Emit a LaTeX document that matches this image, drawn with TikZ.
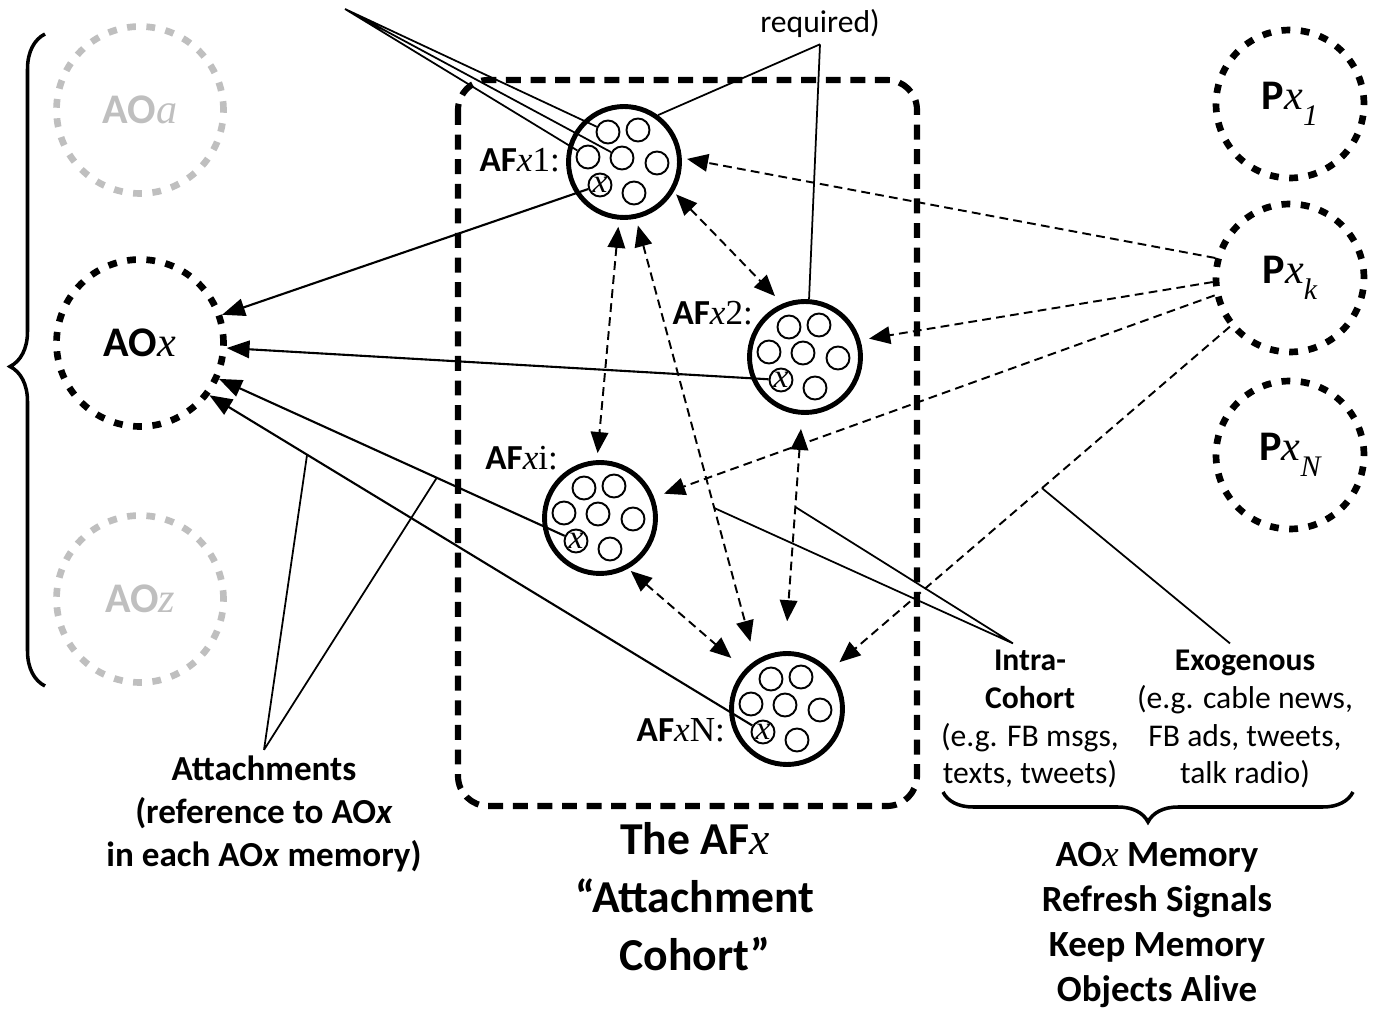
\documentclass[tikz,border=0pt]{standalone}
\usepackage{fontspec}
\setmainfont{Carlito}
\newfontfamily\cambria{Liberation Serif}
\usetikzlibrary{arrows.meta, decorations.pathreplacing}
\definecolor{faded}{RGB}{191,191,191}
\newcommand{\fsz}[2]{\fontsize{#1}{#2}\selectfont}
\newcommand{\vx}{{\cambria\mdseries\itshape x}}
\newcommand{\vsub}[1]{\raisebox{-9pt}{\cambria\mdseries\itshape\fsz{17}{17}#1}}

\tikzset{
  ao/.style={circle, draw, line width=3.8pt, dash pattern=on 5pt off 6pt,
             minimum size=3.34cm, font=\bfseries\fsz{24}{28}},
  px/.style={ao, minimum size=2.96cm},
  af/.style={circle, draw, line width=2.8pt, minimum size=2.22cm},
  mem/.style={circle, draw, line width=1.1pt, minimum size=0.46cm, inner sep=0pt},
  memx/.style={mem, font=\cambria\itshape\fsz{19}{19}},
  afname/.style={anchor=east, inner sep=1pt, font=\bfseries\fsz{20}{24}},
  link/.style={line width=1.2pt, -{Triangle[length=13pt,width=10pt]}},
  sig/.style={line width=1.1pt, dash pattern=on 5pt off 3pt, -{Triangle[length=12pt,width=10pt]}},
  sigboth/.style={sig, {Triangle[length=12pt,width=10pt]}-{Triangle[length=12pt,width=10pt]}},
  note/.style={line width=1pt},
  bracket/.style={line width=2pt, decorate},
}

\begin{document}
\begin{tikzpicture}[x=0.02cm, y=-0.02cm]
  \useasboundingbox (0,0) rectangle (1374,1013);

  % the cohort box
  \draw[line width=3.5pt, dash pattern=on 8.5pt off 5.5pt, rounded corners=0.6cm]
    (458,80) rectangle (917,806);

  % attachment objects
  \node[ao, draw=faded, text=faded] (AOa) at (140,110) {AO{\cambria\mdseries\itshape a}};
  \node[ao] (AOx) at (140,343) {AO\vx};
  \node[ao, draw=faded, text=faded] (AOz) at (140,599) {AO{\cambria\mdseries\itshape z}};

  % sources
  \node[px] (Px1) at (1290,104) {P\vx\vsub{1}};
  \node[px] (Pxk) at (1290,278) {P\vx\vsub{k}};
  \node[px] (PxN) at (1290,455) {P\vx\vsub{N}};

  % cohort members
  \node[af] (af1) at (624,162) {};
  \node[af] (af2) at (805,357) {};
  \node[af] (afi) at (600,518) {};
  \node[af] (afn) at (787,709) {};

  \node[afname] (l1) at (562,160) {AF\vx{\cambria\mdseries 1:}};
  \node[afname] (l2) at (755,313) {AF\vx{\cambria\mdseries 2:}};
  \node[afname] (li) at (560,458) {AF\vx{\cambria\mdseries i:}};
  \node[afname] (ln) at (727,730) {AF\vx{\cambria\mdseries N:}};

  \foreach \c in {af1,af2,afi,afn}{
    \foreach \dx/\dy [count=\k] in {-16/-30,14/-32,-36/-5,-2/-4,33/1,10/31}
      \node[mem] (\c-\k) at ([shift={(\dx,\dy)}]\c) {};
  }
  \node[memx] (xs1) at ([shift={(-24,23)}]af1) {x};
  \node[memx] (xs2) at ([shift={(-24,23)}]af2) {x};
  \node[memx] (xsi) at ([shift={(-24,23)}]afi) {x};
  \node[memx] (xsn) at ([shift={(-24,23)}]afn) {x};

  % texts
  \node[font=\fsz{18}{21.6}, anchor=base] (req) at (820,33) {required)};
  \node[font=\bfseries\fsz{20}{24.4}, align=center] (att) at (264,814)
    {Attachments\\(reference to AO\textit{x}\\in each AO\textit{x} memory)};
  \node[font=\bfseries\fsz{26}{33}, align=center] (cohort) at (695,897)
    {The AF\vx\\“Attachment\\Cohort”};
  \node[font=\fsz{18}{21.6}, align=center] (intra) at (1030,719)
    {\textbf{Intra-}\\\textbf{Cohort}\\(e.g. FB msgs,\\texts, tweets)};
  \node[font=\fsz{18}{21.6}, align=center] (exo) at (1245,719)
    {\textbf{Exogenous}\\(e.g. cable news,\\FB ads, tweets,\\talk radio)};
  \node[font=\bfseries\fsz{21}{25.5}, align=center] (memo) at (1157,925)
    {AO\vx{} Memory\\Refresh Signals\\Keep Memory\\Objects Alive};
  \coordinate (fan) at (345,9);

  % braces
  \draw[bracket, decoration={brace, amplitude=0.7cm, aspect=0.49}] (45,686) -- (45,34);
  \draw[bracket, decoration={brace, amplitude=0.6cm}] (1353,792) -- (943,792);

  % attachments
  \draw[link] (xs1) -- (AOx);
  \draw[link] (xs2) -- (AOx);
  \draw[link] (xsi) -- coordinate[pos=.37] (at3) (AOx);
  \draw[link] (xsn) -- coordinate[pos=.82] (at4) (AOx.-37);

  % intra-cohort signals
  \draw[sigboth, shorten <=2pt, shorten >=6pt] (af1.-31) -- (af2.113);
  \draw[sigboth, shorten <=4pt, shorten >=4pt] (af1.-95) -- (afi.93);
  \draw[sigboth, shorten <=4pt, shorten >=11pt] (af1.-78) -- coordinate[pos=.655] (ic1) (afn.123);
  \draw[sigboth, shorten <=2pt, shorten >=10pt] (afi.-61) -- (afn.137);
  \draw[sigboth, shorten <=8pt, shorten >=17pt] (af2.-93) -- coordinate[pos=.39] (ic2) (afn.92);

  % exogenous signals
  \draw[sig, shorten >=3pt] (Pxk.165) -- (af1.4);
  \draw[sig, shorten >=5pt] (Pxk.183) -- (af2.17);
  \draw[sig, shorten >=6pt] (Pxk.193) -- (afi.21);
  \draw[sig, shorten >=7pt] (Pxk.219) -- coordinate[pos=.47] (ex1) (afn.42);

  % callouts
  \draw[note] (fan) -- (af1-1) (fan) -- (af1-4) (fan) -- (af1-3);
  \draw[note] (req.south) -- (af1.54) (req.south) -- (af2.86);
  \draw[note] (att.north) -- (at3) (att.north) -- (at4);
  \draw[note] ([xshift=-0.34cm]intra.north) -- (ic1) ([xshift=-0.34cm]intra.north) -- (ic2);
  \draw[note] ([xshift=-0.3cm]exo.north) -- (ex1);
\end{tikzpicture}
\end{document}
